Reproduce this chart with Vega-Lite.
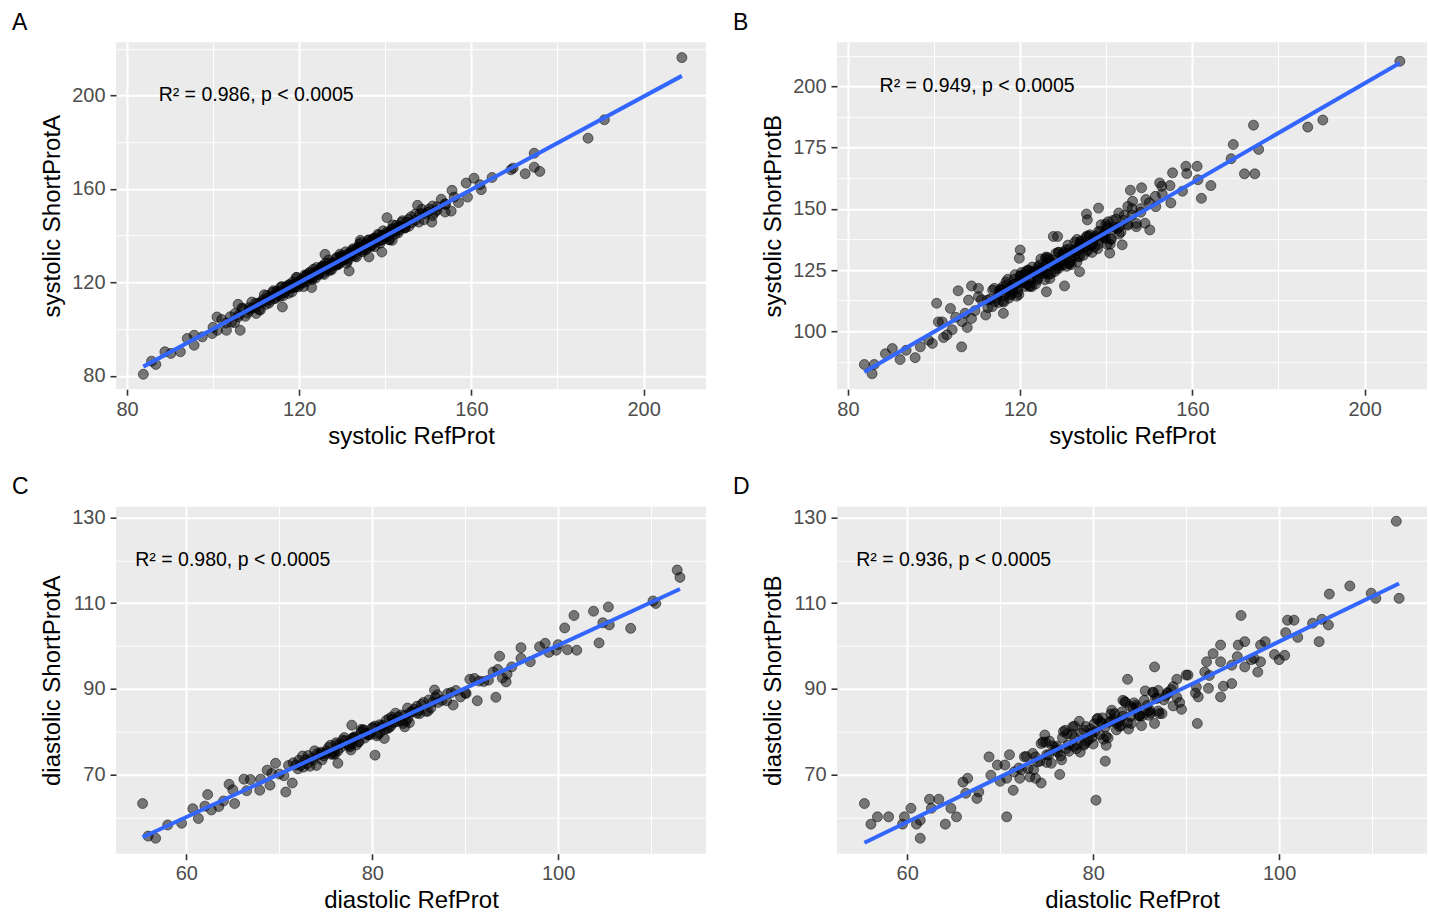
{
  "$schema": "https://vega.github.io/schema/vega-lite/v6.json",
  "background": "white",
  "padding": {"left": 12, "top": 11.2, "right": 2, "bottom": 0},
  "columns": 2,
  "spacing": {"row": 27.5, "column": 27},
  "config": {
    "font": "Liberation Sans",
    "view": {"fill": "#EBEBEB", "stroke": null},
    "axis": {"domain": false, "tickColor": "#333333", "tickWidth": 1.6, "tickSize": 6, "labelColor": "#4D4D4D", "labelFontSize": 20, "labelFont": "Liberation Sans", "titleFont": "Liberation Sans", "titleFontSize": 24, "titleFontWeight": "normal", "titleColor": "#000000", "gridColor": "#FFFFFF", "gridWidth": 2, "gridOpacity": 1},
    "axisX": {"labelPadding": 4, "titlePadding": 5},
    "axisY": {"labelPadding": 5, "titlePadding": 7.5},
    "title": {"fontSize": 23, "fontWeight": "normal", "color": "#000000", "anchor": "start", "frame": "group", "dx": -104, "offset": 7.5, "baseline": "alphabetic", "font": "Liberation Sans"}
  },
  "datasets": {
    "A": [
      {"x":208.9,"y":216.2},{"x":190.9,"y":189.6},{"x":187.1,"y":181.7},{"x":174.6,"y":175.3},{"x":174.6,"y":169.3},{"x":175.9,"y":167.5},{"x":172.5,"y":166.5},{"x":169.7,"y":168.9},{"x":169.2,"y":168.2},{"x":164.8,"y":164.9},{"x":162.0,"y":161.8},{"x":162.3,"y":159.7},{"x":160.6,"y":164.6},{"x":158.8,"y":162.5},{"x":159.1,"y":156.5},{"x":155.5,"y":159.4},{"x":155.3,"y":150.5},{"x":153.9,"y":153.7},
      {"x":83.8,"y":80.7},{"x":85.7,"y":86.3},{"x":86.7,"y":84.9},{"x":88.8,"y":90.3},{"x":90.2,"y":89.6},{"x":92.4,"y":90.3},{"x":94.0,"y":96.0},{"x":95.6,"y":97.4},{"x":95.6,"y":93.1},{"x":97.5,"y":96.7},{"x":99.8,"y":98.1},{"x":100.9,"y":105.2},{"x":103.1,"y":99.5},{"x":106.3,"y":99.5},{"x":105.8,"y":110.6},{"x":108.4,"y":108.1},{"x":110.0,"y":106.7},{"x":116.1,"y":109.5},{"x":114.9,"y":114.5},{"x":119.1,"y":118.0},{"x":122.9,"y":117.8},{"x":126.0,"y":132.0},{"x":129.9,"y":130.6},{"x":131.6,"y":124.9},{"x":134.2,"y":138.0},{"x":136.2,"y":130.9},{"x":139.2,"y":133.0},{"x":140.4,"y":147.7},{"x":141.6,"y":138.0},{"x":147.5,"y":153.0},{"x":150.8,"y":145.8},{"x":153.9,"y":150.1},
      {"x":100,"y":100.8},{"x":101,"y":99.5},{"x":102,"y":104.1},{"x":103,"y":102.6},{"x":104,"y":105.3},{"x":105,"y":102.8},{"x":106,"y":106.2},{"x":107,"y":108.7},{"x":108,"y":106.9},{"x":109,"y":111.6},{"x":110,"y":109.3},{"x":110.5,"y":111.0},{"x":111,"y":108.2},{"x":111.5,"y":112.5},{"x":112,"y":111.8},{"x":112.5,"y":114.4},{"x":113,"y":111.2},{"x":113.5,"y":114.1},{"x":114,"y":116.4},{"x":114.5,"y":113.3},{"x":115,"y":115.8},{"x":115.5,"y":114.0},{"x":116,"y":118.1},{"x":116.5,"y":116.1},{"x":117,"y":118.3},{"x":117.5,"y":115.3},{"x":118,"y":118.2},{"x":118.5,"y":120.2},{"x":119,"y":117.9},{"x":119.5,"y":122.1},{"x":120,"y":119.3},{"x":120.5,"y":121.0},{"x":121,"y":118.2},{"x":121.5,"y":122.5},{"x":122,"y":121.8},{"x":122.5,"y":124.4},{"x":123,"y":121.2},{"x":123.5,"y":124.1},{"x":124,"y":126.4},{"x":124.5,"y":123.3},{"x":125,"y":125.8},{"x":125.5,"y":124.0},{"x":126,"y":128.1},{"x":126.5,"y":126.1},{"x":127,"y":128.3},{"x":127.5,"y":125.3},{"x":128,"y":128.2},{"x":128.5,"y":130.2},{"x":129,"y":127.9},{"x":129.5,"y":132.1},{"x":130,"y":129.3},{"x":130.5,"y":131.0},{"x":131,"y":128.2},{"x":131.5,"y":132.5},{"x":132,"y":131.8},{"x":132.5,"y":134.4},{"x":133,"y":131.2},{"x":133.5,"y":134.1},{"x":134,"y":136.4},{"x":134.5,"y":133.3},{"x":135,"y":135.8},{"x":135.5,"y":134.0},{"x":136,"y":138.1},{"x":136.5,"y":136.1},{"x":137,"y":138.3},{"x":137.5,"y":135.3},{"x":138,"y":138.2},{"x":138.5,"y":140.2},{"x":139,"y":137.9},{"x":139.5,"y":142.1},{"x":140,"y":139.3},{"x":140.5,"y":141.0},{"x":141,"y":138.2},{"x":141.5,"y":142.5},{"x":142,"y":141.8},{"x":142.5,"y":144.4},{"x":143,"y":141.2},{"x":143.5,"y":144.1},{"x":144,"y":146.4},{"x":144.5,"y":143.3},{"x":145,"y":145.8},{"x":145.5,"y":144.0},{"x":146,"y":148.1},{"x":147,"y":146.6},{"x":148,"y":149.2},{"x":149,"y":146.8},{"x":150,"y":150.2},{"x":151,"y":152.7},{"x":152,"y":150.9},{"x":153,"y":155.6},{"x":154,"y":153.3},{"x":156,"y":156.5},{"x":157,"y":154.2},{"x":151.5,"y":150.0},{"x":148.5,"y":151.3},
      {"x":118.2,"y":117.6},{"x":121.8,"y":123.1},{"x":125.2,"y":126.7},{"x":128.8,"y":127.4},{"x":132.3,"y":133.6},{"x":135.8,"y":136.9},{"x":139.3,"y":138.4},{"x":126.8,"y":124.9},{"x":123.2,"y":122.0},{"x":131.2,"y":130.0},
      {"x":104.3,"y":103.0},{"x":105.1,"y":106.7},{"x":105.9,"y":105.3},{"x":106.7,"y":109.0},{"x":107.5,"y":105.5},{"x":108.3,"y":109.2},{"x":109.1,"y":109.0},{"x":109.9,"y":111.1},{"x":110.7,"y":108.3},{"x":111.3,"y":111.7},{"x":111.9,"y":114.7},{"x":112.3,"y":110.6},{"x":112.8,"y":113.5},{"x":113.3,"y":112.4},{"x":113.8,"y":115.7},{"x":114.3,"y":113.0},{"x":114.8,"y":116.4},{"x":115.3,"y":114.7},{"x":115.8,"y":118.1},{"x":116.3,"y":114.3},{"x":116.8,"y":117.7},{"x":117.3,"y":117.2},{"x":117.8,"y":119.0},{"x":118.3,"y":115.9},{"x":118.8,"y":119.2},{"x":119.3,"y":122.1},{"x":119.8,"y":118.1},{"x":120.3,"y":121.0},{"x":120.8,"y":119.9},{"x":121.3,"y":123.2},{"x":121.8,"y":120.5},{"x":122.3,"y":123.9},{"x":122.8,"y":122.2},{"x":123.3,"y":125.6},{"x":123.8,"y":121.8},{"x":124.3,"y":125.2},{"x":124.8,"y":124.7},{"x":125.3,"y":126.5},{"x":125.8,"y":123.4},{"x":126.3,"y":126.7},{"x":126.8,"y":129.6},{"x":127.3,"y":125.6},{"x":127.8,"y":128.5},{"x":128.3,"y":127.4},{"x":128.8,"y":130.7},{"x":129.3,"y":128.0},{"x":129.8,"y":131.4},{"x":130.3,"y":129.7},{"x":130.8,"y":133.1},{"x":131.3,"y":129.3},{"x":131.8,"y":132.7},{"x":132.3,"y":132.2},{"x":132.8,"y":134.0},{"x":133.3,"y":130.9},{"x":133.8,"y":134.2},{"x":134.3,"y":137.1},{"x":134.8,"y":133.1},{"x":135.3,"y":136.0},{"x":135.8,"y":134.9},{"x":136.3,"y":138.2},{"x":136.8,"y":135.5},{"x":137.3,"y":138.9},{"x":137.8,"y":137.2},{"x":138.3,"y":140.6},{"x":138.8,"y":136.8},{"x":139.3,"y":140.2},{"x":139.8,"y":139.7},{"x":140.3,"y":141.5},{"x":140.8,"y":138.4},{"x":141.3,"y":141.7},{"x":141.8,"y":144.6},{"x":142.3,"y":140.6},{"x":142.8,"y":143.5},{"x":143.3,"y":142.4},{"x":143.8,"y":145.7},{"x":144.6,"y":143.3},{"x":145.4,"y":147.0},{"x":146.2,"y":145.6},{"x":147.0,"y":149.3},{"x":147.8,"y":145.8},{"x":148.6,"y":149.5},{"x":149.4,"y":149.3},{"x":150.2,"y":151.4},{"x":151.0,"y":148.6},{"x":152.0,"y":152.4},
      {"x":115.6,"y":115.9},{"x":116.6,"y":115.6},{"x":117.6,"y":119.0},{"x":118.6,"y":118.1},{"x":119.6,"y":119.9},{"x":120.6,"y":119.6},{"x":121.6,"y":123.0},{"x":122.6,"y":122.1},{"x":123.6,"y":123.9},{"x":124.6,"y":123.6},{"x":125.6,"y":127.0},{"x":126.6,"y":126.1},{"x":127.6,"y":127.9},{"x":128.6,"y":127.6},{"x":129.6,"y":131.0},{"x":130.6,"y":130.1},{"x":131.6,"y":131.9},{"x":132.6,"y":131.6},{"x":133.6,"y":135.0},{"x":134.6,"y":134.1},{"x":135.6,"y":135.9},{"x":136.6,"y":135.6},{"x":137.6,"y":139.0},{"x":138.6,"y":138.1},{"x":139.6,"y":139.9},{"x":140.6,"y":139.6},{"x":141.6,"y":143.0},{"x":142.6,"y":142.1},{"x":143.6,"y":143.9},{"x":144.6,"y":143.6}
    ],
    "B": [
      {"x":208.2,"y":210.3},{"x":190.3,"y":186.3},{"x":186.8,"y":183.4},{"x":174.2,"y":184.2},{"x":175.4,"y":174.3},{"x":169.5,"y":176.3},{"x":169.0,"y":170.5},{"x":172.1,"y":164.3},{"x":174.5,"y":164.3},{"x":164.3,"y":159.5},{"x":162.1,"y":154.3},{"x":161.3,"y":161.9},{"x":161.1,"y":167.4},{"x":158.5,"y":167.4},{"x":158.7,"y":164.4},{"x":155.4,"y":164.7},{"x":157.7,"y":157.2},{"x":154.8,"y":159.5},{"x":155.0,"y":152.4},{"x":152.4,"y":160.6},{"x":150.1,"y":141.4},{"x":148.2,"y":158.6},{"x":145.6,"y":157.6},{"x":143.7,"y":135.3},{"x":140.8,"y":131.9},{"x":138.2,"y":150.3},{"x":135.4,"y":147.9},{"x":135.6,"y":145.5},{"x":133.8,"y":124.3},{"x":130.3,"y":118.5},{"x":128.7,"y":138.7},{"x":127.7,"y":138.7},{"x":126.1,"y":116.1},{"x":120.0,"y":133.2},{"x":119.8,"y":129.8},{"x":116.1,"y":107.3},{"x":110.3,"y":117.5},{"x":108.7,"y":118.5},{"x":105.6,"y":116.5},{"x":100.6,"y":111.4},{"x":102.2,"y":97.4},{"x":106.4,"y":93.6},{"x":107.7,"y":101.5},{"x":99.6,"y":95.0},{"x":95.6,"y":89.2},{"x":92.1,"y":88.4},{"x":93.5,"y":92.2},{"x":90.3,"y":92.9},{"x":88.7,"y":90.8},{"x":86.1,"y":86.4},{"x":85.6,"y":82.6},{"x":83.8,"y":86.4},{"x":96.8,"y":93.6},{"x":98.7,"y":96.3},{"x":101.9,"y":103.8},{"x":103.8,"y":109.3},{"x":107.2,"y":107.3},{"x":108.7,"y":105.2},{"x":112.4,"y":112.7},{"x":113.5,"y":110.0},{"x":115.1,"y":115.5},{"x":117.7,"y":118.2},{"x":124.5,"y":125.7},{"x":126.1,"y":123.7},{"x":131.4,"y":127.8},{"x":133.5,"y":130.5},{"x":139.8,"y":140.1},{"x":140.3,"y":142.8},{"x":142.9,"y":148.3},{"x":145.0,"y":151.0},{"x":146.1,"y":153.1},{"x":149.2,"y":153.8},{"x":151.4,"y":155.1},{"x":152.9,"y":159.2},
      {"x":101,"y":103.8},{"x":103,"y":98.5},{"x":105,"y":105.7},{"x":106.5,"y":103.9},{"x":108,"y":112.7},{"x":109.5,"y":108.4},{"x":111,"y":112.9},{"x":112,"y":106.6},{"x":113,"y":113.1},{"x":114,"y":117.5},{"x":115,"y":111.7},{"x":115.7,"y":117.0},{"x":116.4,"y":114.7},{"x":117.1,"y":121.2},{"x":117.8,"y":114.8},{"x":118.5,"y":119.1},{"x":119.2,"y":114.3},{"x":119.9,"y":122.4},{"x":120.6,"y":120.0},{"x":121.3,"y":124.4},{"x":122,"y":124.8},{"x":122.7,"y":118.2},{"x":123.4,"y":124.1},{"x":124.1,"y":121.5},{"x":124.8,"y":129.5},{"x":125.5,"y":124.4},{"x":126.2,"y":128.1},{"x":126.9,"y":121.5},{"x":127.6,"y":127.7},{"x":128.3,"y":131.8},{"x":129,"y":125.7},{"x":129.7,"y":131.0},{"x":130.4,"y":128.7},{"x":131.1,"y":135.2},{"x":131.8,"y":128.8},{"x":132.5,"y":133.1},{"x":133.2,"y":128.3},{"x":133.9,"y":136.4},{"x":134.6,"y":134.0},{"x":135.3,"y":138.4},{"x":136,"y":138.8},{"x":136.7,"y":132.2},{"x":137.4,"y":138.1},{"x":138.1,"y":135.5},{"x":138.8,"y":143.5},{"x":139.5,"y":138.4},{"x":140.2,"y":142.1},{"x":140.9,"y":135.5},{"x":141.6,"y":141.7},{"x":142.3,"y":145.8},{"x":143,"y":139.7},{"x":144,"y":145.3},{"x":145,"y":143.3},{"x":146,"y":150.1},{"x":147,"y":144.0},{"x":148,"y":148.6},{"x":149,"y":144.1},{"x":150,"y":152.5},{"x":151.5,"y":150.9},{"x":153,"y":156.1},
      {"x":114.2,"y":112.1},{"x":115.9,"y":118.1},{"x":117.4,"y":113.5},{"x":118.9,"y":119.3},{"x":120.1,"y":122.8},{"x":121.7,"y":119.3},{"x":123.0,"y":124.0},{"x":124.4,"y":123.5},{"x":125.9,"y":129.7},{"x":127.2,"y":123.6},{"x":128.7,"y":126.6},{"x":130.1,"y":132.3},{"x":131.4,"y":127.5},{"x":132.9,"y":133.3},{"x":134.2,"y":136.9},{"x":135.7,"y":133.3},{"x":137.0,"y":138.0},{"x":138.5,"y":137.6},{"x":139.9,"y":143.7},{"x":141.2,"y":137.6},{"x":119.5,"y":117.4},{"x":121.0,"y":123.2},{"x":122.3,"y":118.4},{"x":125.2,"y":125.6},{"x":126.6,"y":129.3},{"x":129.3,"y":126.9},{"x":133.6,"y":134.6},{"x":136.3,"y":135.4},{"x":110.3,"y":114.1},{"x":104.2,"y":100.6},
      {"x":112.5,"y":109.6},{"x":113.6,"y":116.8},{"x":114.6,"y":113.4},{"x":115.5,"y":117.0},{"x":116.2,"y":111.9},{"x":116.9,"y":119.0},{"x":117.6,"y":117.5},{"x":118.2,"y":116.3},{"x":118.8,"y":123.1},{"x":119.4,"y":116.0},{"x":120.0,"y":120.8},{"x":120.6,"y":119.9},{"x":121.2,"y":118.3},{"x":121.8,"y":125.0},{"x":122.4,"y":121.2},{"x":123.0,"y":124.5},{"x":123.6,"y":119.3},{"x":124.2,"y":126.3},{"x":124.8,"y":124.7},{"x":125.4,"y":123.5},{"x":126.0,"y":130.3},{"x":126.6,"y":123.2},{"x":127.2,"y":128.0},{"x":127.8,"y":127.1},{"x":128.4,"y":125.5},{"x":129.0,"y":132.2},{"x":129.6,"y":128.4},{"x":130.2,"y":131.7},{"x":130.8,"y":126.5},{"x":131.4,"y":133.5},{"x":132.0,"y":131.9},{"x":132.6,"y":130.7},{"x":133.2,"y":137.5},{"x":133.8,"y":130.4},{"x":134.4,"y":135.2},{"x":135.0,"y":134.3},{"x":135.6,"y":132.7},{"x":136.2,"y":139.4},{"x":136.8,"y":135.6},{"x":137.4,"y":138.9},{"x":138.0,"y":133.7},{"x":138.6,"y":140.7},{"x":139.2,"y":139.1},{"x":139.8,"y":137.9},{"x":140.4,"y":144.7},{"x":141.0,"y":137.6},{"x":141.8,"y":142.6},{"x":142.6,"y":141.9},{"x":143.4,"y":140.5},{"x":144.2,"y":147.4},{"x":145.0,"y":143.8},{"x":146.0,"y":147.5},{"x":147.0,"y":142.7},{"x":148.0,"y":150.1},
      {"x":115.2,"y":116.8},{"x":116.0,"y":112.3},{"x":116.7,"y":120.1},{"x":117.3,"y":115.9},{"x":117.9,"y":115.0},{"x":118.6,"y":121.2},{"x":119.1,"y":119.4},{"x":119.7,"y":115.0},{"x":120.3,"y":124.0},{"x":120.9,"y":120.4},{"x":121.5,"y":123.1},{"x":122.1,"y":118.4},{"x":122.8,"y":126.2},{"x":123.3,"y":121.9},{"x":123.9,"y":121.0},{"x":124.5,"y":127.1},{"x":125.1,"y":125.4},{"x":125.7,"y":121.0},{"x":126.4,"y":130.1},{"x":127.0,"y":126.5},{"x":127.5,"y":129.1},{"x":128.1,"y":124.4},{"x":128.9,"y":132.3},{"x":129.5,"y":128.1},{"x":130.1,"y":127.2},{"x":130.7,"y":133.3},{"x":131.3,"y":131.6},{"x":131.9,"y":127.2},{"x":132.7,"y":136.4},{"x":133.3,"y":132.8},{"x":134.0,"y":135.6},{"x":134.7,"y":131.0},{"x":135.5,"y":138.9},{"x":136.4,"y":135.0},{"x":137.3,"y":134.4},{"x":138.2,"y":140.8},{"x":139.2,"y":139.5},{"x":140.2,"y":135.5},{"x":141.5,"y":145.2},{"x":143.0,"y":142.5}
    ],
    "C": [
      {"x":112.8,"y":117.7},{"x":113.1,"y":116.0},{"x":110.2,"y":110.5},{"x":110.5,"y":109.9},{"x":105.4,"y":109.1},{"x":103.8,"y":108.1},{"x":101.7,"y":107.1},{"x":107.8,"y":104.1},{"x":105.5,"y":104.9},{"x":104.8,"y":105.4},{"x":104.4,"y":100.7},{"x":102.0,"y":99.0},{"x":100.7,"y":104.2},{"x":99.8,"y":99.0},{"x":98.6,"y":100.6},{"x":96.0,"y":99.6},{"x":93.7,"y":97.6},{"x":94.4,"y":91.6},{"x":93.3,"y":88.0},{"x":91.3,"y":87.2},{"x":88.7,"y":86.2},{"x":86.7,"y":89.7},{"x":83.5,"y":81.1},{"x":80.3,"y":74.5},{"x":81.3,"y":78.4},{"x":76.3,"y":72.6},{"x":77.7,"y":75.7},{"x":77.8,"y":81.5},{"x":70.7,"y":65.9},{"x":71.4,"y":68.0},{"x":69.6,"y":72.6},{"x":69.2,"y":70.2},{"x":67.9,"y":66.3},{"x":66.9,"y":68.8},{"x":66.2,"y":68.9},{"x":65.2,"y":63.2},{"x":64.6,"y":67.7},{"x":64.0,"y":63.8},{"x":62.7,"y":61.7},{"x":62.3,"y":65.3},{"x":61.3,"y":59.7},{"x":60.7,"y":62.0},{"x":59.5,"y":58.6},{"x":58.0,"y":58.2},{"x":55.3,"y":63.2},{"x":55.9,"y":55.6},{"x":56.7,"y":55.1},{"x":68.7,"y":71.0},{"x":72.1,"y":73.3},{"x":74.6,"y":74.9},{"x":78.1,"y":78.8},
      {"x":62,"y":62.6},{"x":63.5,"y":62.5},{"x":65,"y":66.4},{"x":66.5,"y":66.2},{"x":68,"y":68.9},{"x":69,"y":67.5},{"x":70,"y":70.1},{"x":71,"y":72.1},{"x":72,"y":71.3},{"x":72.5,"y":74.3},{"x":73,"y":72.5},{"x":73.5,"y":73.8},{"x":74,"y":72.1},{"x":74.5,"y":75.2},{"x":75,"y":74.9},{"x":75.5,"y":76.8},{"x":76,"y":74.8},{"x":76.5,"y":76.9},{"x":77,"y":78.6},{"x":77.5,"y":76.7},{"x":78,"y":78.6},{"x":78.5,"y":77.5},{"x":79,"y":80.4},{"x":79.5,"y":79.2},{"x":80,"y":80.9},{"x":80.5,"y":79.0},{"x":81,"y":81.1},{"x":81.5,"y":82.6},{"x":82,"y":81.3},{"x":82.5,"y":84.3},{"x":83,"y":82.5},{"x":83.5,"y":83.8},{"x":84,"y":82.1},{"x":84.5,"y":85.2},{"x":85,"y":84.9},{"x":85.5,"y":86.8},{"x":86,"y":84.8},{"x":86.5,"y":86.9},{"x":87,"y":88.6},{"x":88,"y":87.2},{"x":89,"y":89.6},{"x":90,"y":89.0},{"x":91,"y":92.4},{"x":92,"y":91.7},{"x":93,"y":93.9},{"x":94,"y":92.5},{"x":95,"y":95.1},{"x":96,"y":97.1},{"x":97,"y":96.3},{"x":98,"y":99.8},{"x":99,"y":98.5},{"x":100,"y":100.3},{"x":101,"y":99.1},
      {"x":76.2,"y":77.0},{"x":77.8,"y":77.1},{"x":79.2,"y":78.5},{"x":80.8,"y":81.6},{"x":82.2,"y":82.9},{"x":83.8,"y":83.0},{"x":78.8,"y":79.9},{"x":81.8,"y":80.9},{"x":75.8,"y":75.2},{"x":84.8,"y":85.9},
      {"x":70.5,"y":69.7},{"x":71.5,"y":72.7},{"x":72.3,"y":72.1},{"x":72.8,"y":73.4},{"x":73.3,"y":71.9},{"x":73.8,"y":75.5},{"x":74.3,"y":74.6},{"x":74.8,"y":74.3},{"x":75.3,"y":76.3},{"x":75.8,"y":74.7},{"x":76.3,"y":75.5},{"x":76.8,"y":78.0},{"x":77.3,"y":77.1},{"x":77.8,"y":78.4},{"x":78.3,"y":76.9},{"x":78.8,"y":80.5},{"x":79.3,"y":79.6},{"x":79.8,"y":79.3},{"x":80.3,"y":81.3},{"x":80.8,"y":79.7},{"x":81.3,"y":80.5},{"x":81.8,"y":83.0},{"x":82.3,"y":82.1},{"x":82.8,"y":83.4},{"x":83.3,"y":81.9},{"x":83.8,"y":85.5},{"x":84.3,"y":84.6},{"x":84.8,"y":84.3},{"x":85.3,"y":86.3},{"x":85.8,"y":84.7},{"x":86.3,"y":85.5},{"x":86.8,"y":88.0},{"x":87.5,"y":87.3},{"x":88.5,"y":89.1},{"x":89.5,"y":88.1},{"x":90.5,"y":92.2},{"x":91.5,"y":91.8},{"x":92.5,"y":92.0},{"x":93.5,"y":94.5},{"x":94.5,"y":93.4},
      {"x":71.8,"y":72.2},{"x":72.6,"y":71.7},{"x":73.1,"y":74.4},{"x":73.6,"y":73.3},{"x":74.1,"y":74.9},{"x":74.6,"y":73.4},{"x":75.1,"y":75.5},{"x":75.6,"y":74.7},{"x":76.1,"y":77.4},{"x":76.6,"y":76.3},{"x":77.1,"y":77.9},{"x":77.6,"y":76.4},{"x":78.1,"y":78.5},{"x":78.6,"y":77.7},{"x":79.1,"y":80.4},{"x":79.6,"y":79.3},{"x":80.1,"y":80.9},{"x":80.6,"y":79.4},{"x":81.1,"y":81.5},{"x":81.6,"y":80.7},{"x":82.1,"y":83.4},{"x":82.6,"y":82.3},{"x":83.1,"y":83.9},{"x":83.6,"y":82.4},{"x":84.1,"y":84.5},{"x":85.1,"y":84.2},{"x":86.1,"y":87.4},{"x":87.1,"y":86.8},{"x":88.1,"y":88.9},{"x":90.1,"y":88.9}
    ],
    "D": [
      {"x":112.6,"y":129.1},{"x":112.9,"y":111.1},{"x":109.9,"y":112.3},{"x":110.4,"y":111.1},{"x":107.6,"y":114.0},{"x":105.4,"y":112.1},{"x":105.3,"y":104.9},{"x":104.6,"y":106.2},{"x":103.6,"y":105.3},{"x":104.3,"y":101.0},{"x":101.6,"y":106.0},{"x":100.9,"y":106.0},{"x":102.0,"y":102.0},{"x":100.7,"y":103.1},{"x":100.6,"y":97.8},{"x":100.0,"y":96.8},{"x":99.5,"y":98.0},{"x":98.0,"y":100.2},{"x":98.0,"y":96.3},{"x":97.7,"y":93.9},{"x":97.3,"y":97.1},{"x":96.3,"y":101.0},{"x":95.9,"y":107.1},{"x":95.6,"y":100.2},{"x":96.3,"y":95.1},{"x":94.9,"y":95.5},{"x":93.7,"y":100.2},{"x":93.7,"y":96.3},{"x":92.9,"y":98.2},{"x":93.7,"y":88.1},{"x":94.9,"y":91.2},{"x":92.2,"y":96.3},{"x":92.0,"y":93.9},{"x":92.4,"y":90.1},{"x":91.2,"y":81.9},{"x":91.3,"y":88.1},{"x":89.5,"y":85.2},{"x":89.0,"y":92.2},{"x":88.6,"y":86.0},{"x":86.6,"y":95.1},{"x":86.6,"y":81.9},{"x":87.4,"y":84.2},{"x":83.7,"y":92.2},{"x":83.2,"y":87.3},{"x":81.3,"y":73.1},{"x":81.4,"y":76.8},{"x":80.3,"y":64.0},{"x":76.4,"y":70.0},{"x":74.4,"y":68.0},{"x":73.8,"y":69.1},{"x":74.8,"y":79.2},{"x":72.1,"y":69.1},{"x":71.4,"y":66.3},{"x":70.7,"y":60.1},{"x":70.7,"y":69.1},{"x":68.8,"y":74.1},{"x":69.7,"y":72.2},{"x":67.7,"y":65.9},{"x":66.5,"y":69.1},{"x":66.3,"y":65.6},{"x":65.3,"y":60.1},{"x":64.7,"y":62.1},{"x":64.1,"y":58.4},{"x":63.4,"y":64.2},{"x":62.4,"y":64.2},{"x":62.6,"y":62.1},{"x":61.4,"y":55.1},{"x":61.4,"y":59.3},{"x":61.0,"y":58.4},{"x":60.4,"y":62.1},{"x":59.7,"y":60.1},{"x":59.5,"y":58.4},{"x":58.0,"y":60.1},{"x":56.8,"y":60.1},{"x":56.1,"y":58.4},{"x":55.4,"y":63.2},
      {"x":66,"y":68.2},{"x":67.5,"y":64.4},{"x":69,"y":69.8},{"x":70,"y":68.4},{"x":71,"y":74.6},{"x":72,"y":71.5},{"x":72.6,"y":74.1},{"x":73.2,"y":69.4},{"x":73.8,"y":74.1},{"x":74.4,"y":77.2},{"x":75,"y":72.8},{"x":75.6,"y":76.7},{"x":76.2,"y":75.2},{"x":76.8,"y":80.0},{"x":77.4,"y":75.4},{"x":78,"y":78.6},{"x":78.6,"y":75.2},{"x":79.2,"y":81.2},{"x":79.8,"y":79.6},{"x":80.4,"y":82.9},{"x":81,"y":83.2},{"x":81.6,"y":78.5},{"x":82.2,"y":83.0},{"x":82.8,"y":81.2},{"x":83.4,"y":87.0},{"x":84,"y":83.5},{"x":84.6,"y":86.1},{"x":85.2,"y":81.4},{"x":85.8,"y":86.1},{"x":86.4,"y":89.2},{"x":87,"y":84.8},{"x":88,"y":89.1},{"x":89,"y":88.0},{"x":90,"y":93.2},{"x":91,"y":89.0},{"x":92.5,"y":93.1},{"x":94,"y":90.6},{"x":95.5,"y":97.5},{"x":97,"y":96.8},{"x":98.5,"y":101.0},
      {"x":74.0,"y":72.9},{"x":75.3,"y":77.8},{"x":76.5,"y":74.3},{"x":77.7,"y":79.4},{"x":78.3,"y":77.0},{"x":79.5,"y":78.1},{"x":80.1,"y":81.8},{"x":80.7,"y":79.3},{"x":81.3,"y":81.0},{"x":81.9,"y":84.1},{"x":82.5,"y":80.4},{"x":83.1,"y":84.6},{"x":83.7,"y":82.0},{"x":84.3,"y":85.4},{"x":84.9,"y":83.6},{"x":85.5,"y":87.3},{"x":86.1,"y":85.0},{"x":86.7,"y":87.7},{"x":79.0,"y":80.3},{"x":77.1,"y":76.0},{"x":73.5,"y":74.9},{"x":71.5,"y":70.6},{"x":70.5,"y":72.2},{"x":72.3,"y":71.1},
      {"x":72.8,"y":74.2},{"x":73.6,"y":71.1},{"x":74.6,"y":77.6},{"x":75.2,"y":74.5},{"x":75.9,"y":76.3},{"x":76.6,"y":73.4},{"x":77.2,"y":79.5},{"x":77.9,"y":76.6},{"x":78.5,"y":82.4},{"x":79.1,"y":77.2},{"x":79.7,"y":80.6},{"x":80.2,"y":80.0},{"x":80.8,"y":82.2},{"x":81.4,"y":78.9},{"x":82.0,"y":85.0},{"x":82.6,"y":81.9},{"x":83.2,"y":83.6},{"x":83.8,"y":80.6},{"x":84.4,"y":86.7},{"x":85.0,"y":83.7},{"x":85.6,"y":89.5},{"x":86.2,"y":84.3},{"x":86.9,"y":87.8},{"x":87.6,"y":87.4},{"x":88.4,"y":89.8},{"x":89.3,"y":86.8},{"x":90.2,"y":93.2},{"x":91.1,"y":90.4},
      {"x":74.3,"y":73.1},{"x":74.9,"y":77.5},{"x":75.5,"y":72.6},{"x":76.1,"y":76.6},{"x":76.7,"y":78.6},{"x":77.3,"y":76.9},{"x":77.8,"y":81.1},{"x":78.2,"y":76.0},{"x":78.7,"y":79.6},{"x":79.3,"y":77.7},{"x":79.9,"y":78.7},{"x":80.5,"y":83.1},{"x":81.1,"y":78.2},{"x":81.7,"y":82.2},{"x":82.3,"y":84.2},{"x":82.9,"y":82.5},{"x":83.5,"y":86.8},{"x":84.1,"y":81.9},{"x":84.7,"y":85.6},{"x":85.3,"y":83.7},{"x":85.9,"y":84.7},{"x":86.5,"y":89.1},{"x":87.1,"y":84.2},{"x":87.8,"y":88.3},{"x":88.6,"y":90.5},{"x":75.0,"y":74.6},{"x":77.0,"y":80.3},{"x":79.0,"y":76.8},{"x":81.0,"y":81.9},{"x":83.0,"y":81.4},{"x":85.0,"y":83.8},{"x":87.0,"y":89.6},{"x":80.0,"y":77.1},{"x":82.0,"y":82.5},{"x":84.0,"y":85.9},{"x":76.0,"y":75.6},{"x":78.0,"y":81.3},{"x":86.0,"y":83.8},{"x":88.0,"y":88.9},{"x":73.0,"y":71.4}
    ]
  },
  "concat": [
    {
      "title": {"text": "A"},
      "width": 590, "height": 347,
      "layer": [
        {"data": {"name": "A"},
         "mark": {"type": "point", "filled": true, "fill": "#000000", "fillOpacity": 0.5, "stroke": "#000000", "strokeOpacity": 0.5, "strokeWidth": 1, "size": 100},
         "encoding": {
           "x": {"field": "x", "type": "quantitative", "scale": {"domain": [77.45, 214.5], "nice": false, "zero": false}, "axis": {"orient": "bottom", "values": [80, 120, 160, 200], "title": "systolic RefProt"}},
           "y": {"field": "y", "type": "quantitative", "scale": {"domain": [74.3, 222.8], "nice": false, "zero": false}, "axis": {"orient": "left", "values": [80, 120, 160, 200], "title": "systolic ShortProtA"}}
         }},
        {"data": {"name": "A"},
         "transform": [{"regression": "y", "on": "x"}],
         "mark": {"type": "line", "color": "#3366FF", "strokeWidth": 4},
         "encoding": {
           "x": {"field": "x", "type": "quantitative", "axis": {"orient": "top", "values": [100, 140, 180], "grid": true, "gridWidth": 1, "labels": false, "ticks": false, "domain": false, "title": null}},
           "y": {"field": "y", "type": "quantitative", "axis": {"orient": "right", "values": [100, 140, 180, 220], "grid": true, "gridWidth": 1, "labels": false, "ticks": false, "domain": false, "title": null}}
         }},
        {"data": {"values": [{"x": 110, "y": 200, "label": "R² = 0.986, p < 0.0005"}]},
         "mark": {"type": "text", "fontSize": 19.5, "align": "center", "baseline": "middle", "color": "#000000"},
         "encoding": {
           "x": {"field": "x", "type": "quantitative", "axis": null},
           "y": {"field": "y", "type": "quantitative", "axis": null},
           "text": {"field": "label"}
         }}
      ],
      "resolve": {"axis": {"x": "independent", "y": "independent"}}
    },
    {
      "title": {"text": "B"},
      "width": 590, "height": 347,
      "layer": [
        {"data": {"name": "B"},
         "mark": {"type": "point", "filled": true, "fill": "#000000", "fillOpacity": 0.5, "stroke": "#000000", "strokeOpacity": 0.5, "strokeWidth": 1, "size": 100},
         "encoding": {
           "x": {"field": "x", "type": "quantitative", "scale": {"domain": [77.45, 214.5], "nice": false, "zero": false}, "axis": {"orient": "bottom", "values": [80, 120, 160, 200], "title": "systolic RefProt"}},
           "y": {"field": "y", "type": "quantitative", "scale": {"domain": [76.3, 218.1], "nice": false, "zero": false}, "axis": {"orient": "left", "values": [100, 125, 150, 175, 200], "title": "systolic ShortProtB"}}
         }},
        {"data": {"name": "B"},
         "transform": [{"regression": "y", "on": "x"}],
         "mark": {"type": "line", "color": "#3366FF", "strokeWidth": 4},
         "encoding": {
           "x": {"field": "x", "type": "quantitative", "axis": {"orient": "top", "values": [100, 140, 180], "grid": true, "gridWidth": 1, "labels": false, "ticks": false, "domain": false, "title": null}},
           "y": {"field": "y", "type": "quantitative", "axis": {"orient": "right", "values": [87.5, 112.5, 137.5, 162.5, 187.5, 212.5], "grid": true, "gridWidth": 1, "labels": false, "ticks": false, "domain": false, "title": null}}
         }},
        {"data": {"values": [{"x": 110, "y": 200, "label": "R² = 0.949, p < 0.0005"}]},
         "mark": {"type": "text", "fontSize": 19.5, "align": "center", "baseline": "middle", "color": "#000000"},
         "encoding": {
           "x": {"field": "x", "type": "quantitative", "axis": null},
           "y": {"field": "y", "type": "quantitative", "axis": null},
           "text": {"field": "label"}
         }}
      ],
      "resolve": {"axis": {"x": "independent", "y": "independent"}}
    },
    {
      "title": {"text": "C"},
      "width": 590, "height": 347,
      "layer": [
        {"data": {"name": "C"},
         "mark": {"type": "point", "filled": true, "fill": "#000000", "fillOpacity": 0.5, "stroke": "#000000", "strokeOpacity": 0.5, "strokeWidth": 1, "size": 100},
         "encoding": {
           "x": {"field": "x", "type": "quantitative", "scale": {"domain": [52.44, 115.9], "nice": false, "zero": false}, "axis": {"orient": "bottom", "values": [60, 80, 100], "title": "diastolic RefProt"}},
           "y": {"field": "y", "type": "quantitative", "scale": {"domain": [51.5, 132.5], "nice": false, "zero": false}, "axis": {"orient": "left", "values": [70, 90, 110, 130], "title": "diastolic ShortProtA"}}
         }},
        {"data": {"name": "C"},
         "transform": [{"regression": "y", "on": "x"}],
         "mark": {"type": "line", "color": "#3366FF", "strokeWidth": 4},
         "encoding": {
           "x": {"field": "x", "type": "quantitative", "axis": {"orient": "top", "values": [70, 90, 110], "grid": true, "gridWidth": 1, "labels": false, "ticks": false, "domain": false, "title": null}},
           "y": {"field": "y", "type": "quantitative", "axis": {"orient": "right", "values": [60, 80, 100, 120], "grid": true, "gridWidth": 1, "labels": false, "ticks": false, "domain": false, "title": null}}
         }},
        {"data": {"values": [{"x": 65, "y": 120, "label": "R² = 0.980, p < 0.0005"}]},
         "mark": {"type": "text", "fontSize": 19.5, "align": "center", "baseline": "middle", "color": "#000000"},
         "encoding": {
           "x": {"field": "x", "type": "quantitative", "axis": null},
           "y": {"field": "y", "type": "quantitative", "axis": null},
           "text": {"field": "label"}
         }}
      ],
      "resolve": {"axis": {"x": "independent", "y": "independent"}}
    },
    {
      "title": {"text": "D"},
      "width": 590, "height": 347,
      "layer": [
        {"data": {"name": "D"},
         "mark": {"type": "point", "filled": true, "fill": "#000000", "fillOpacity": 0.5, "stroke": "#000000", "strokeOpacity": 0.5, "strokeWidth": 1, "size": 100},
         "encoding": {
           "x": {"field": "x", "type": "quantitative", "scale": {"domain": [52.45, 115.9], "nice": false, "zero": false}, "axis": {"orient": "bottom", "values": [60, 80, 100], "title": "diastolic RefProt"}},
           "y": {"field": "y", "type": "quantitative", "scale": {"domain": [51.5, 132.5], "nice": false, "zero": false}, "axis": {"orient": "left", "values": [70, 90, 110, 130], "title": "diastolic ShortProtB"}}
         }},
        {"data": {"name": "D"},
         "transform": [{"regression": "y", "on": "x"}],
         "mark": {"type": "line", "color": "#3366FF", "strokeWidth": 4},
         "encoding": {
           "x": {"field": "x", "type": "quantitative", "axis": {"orient": "top", "values": [70, 90, 110], "grid": true, "gridWidth": 1, "labels": false, "ticks": false, "domain": false, "title": null}},
           "y": {"field": "y", "type": "quantitative", "axis": {"orient": "right", "values": [60, 80, 100, 120], "grid": true, "gridWidth": 1, "labels": false, "ticks": false, "domain": false, "title": null}}
         }},
        {"data": {"values": [{"x": 65, "y": 120, "label": "R² = 0.936, p < 0.0005"}]},
         "mark": {"type": "text", "fontSize": 19.5, "align": "center", "baseline": "middle", "color": "#000000"},
         "encoding": {
           "x": {"field": "x", "type": "quantitative", "axis": null},
           "y": {"field": "y", "type": "quantitative", "axis": null},
           "text": {"field": "label"}
         }}
      ],
      "resolve": {"axis": {"x": "independent", "y": "independent"}}
    }
  ]
}
